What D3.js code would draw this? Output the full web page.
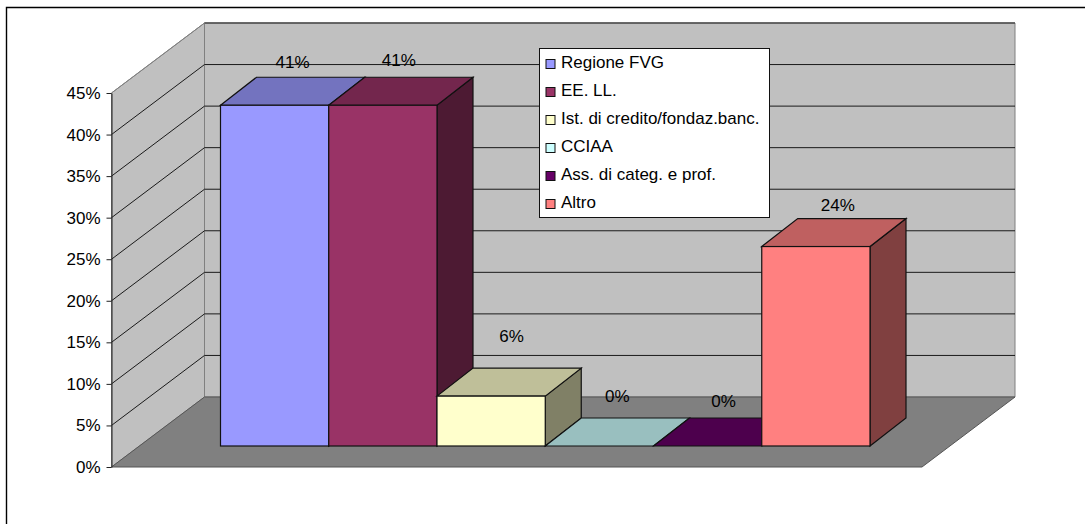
<!DOCTYPE html>
<html>
<head>
<meta charset="utf-8">
<script src="https://cdn.jsdelivr.net/npm/d3@7"></script>
<style>
  html, body { margin: 0; padding: 0; background: #fff; }
  svg { display: block; }
  text { font-family: "Liberation Sans", Arial, sans-serif; fill: #000; }
</style>
</head>
<body>
<div id="chart"></div>
<script>
var categories = ["Regione FVG", "EE. LL.", "Ist. di credito/fondaz.banc.", "CCIAA", "Ass. di categ. e prof.", "Altro"];
var values = [41, 41, 6, 0, 0, 24];
var colors = ["#9999ff", "#993366", "#ffffcc", "#ccffff", "#660066", "#ff8080"];
var ticks = [0, 5, 10, 15, 20, 25, 30, 35, 40, 45];

// label nudges relative to the back top corner of each bar's centre
var labelNudge = [[0, -15], [-2, -17], [2.5, -32], [0, -22], [-2, -17], [4, -13.5]];

var width = 1085, height = 524;
var fontSize = "17px";

var svg = d3.select("#chart").append("svg")
    .attr("width", width)
    .attr("height", height);

// front plane of the box, the back wall is shifted by wallDx/wallDy
var x0 = 111.5, x1 = 922;
var wallDx = 93, wallDy = -70;

var y = d3.scaleLinear().domain([0, 45]).range([467, 93]);

// bars stand on their own plane, a bit inside the floor
var barY0 = 446, barDx = 36, barDy = -28;
var barY = function(v) { return barY0 - (y(0) - y(v)); };
var x = d3.scaleBand().domain(categories).range([220.5, 870]);

function poly(pts) { return "M" + pts.map(function(p) { return p.join(","); }).join("L") + "Z"; }

// chart frame, only the top and left edges fall inside the page
svg.append("path")
    .attr("d", "M6.5," + height + "V7.5H" + width)
    .attr("fill", "none")
    .attr("stroke", "#000")
    .attr("stroke-width", 1.4);

// back wall
svg.append("path")
    .attr("d", poly([[x0 + wallDx, y(45) + wallDy], [x1 + wallDx, y(45) + wallDy], [x1 + wallDx, y(0) + wallDy], [x0 + wallDx, y(0) + wallDy]]))
    .attr("fill", "#c0c0c0")
    .attr("stroke", "#808080");

// side wall
svg.append("path")
    .attr("d", poly([[x0, y(45)], [x0 + wallDx, y(45) + wallDy], [x0 + wallDx, y(0) + wallDy], [x0, y(0)]]))
    .attr("fill", "#c0c0c0")
    .attr("stroke", "#808080");

// floor
svg.append("path")
    .attr("d", poly([[x0, y(0)], [x0 + wallDx, y(0) + wallDy], [x1 + wallDx, y(0) + wallDy], [x1, y(0)]]))
    .attr("fill", "#808080")
    .attr("stroke", "#555");

// gridlines along side wall and back wall
svg.selectAll("path.grid")
    .data(ticks.slice(1)).enter().append("path")
    .attr("class", "grid")
    .attr("fill", "none")
    .attr("stroke", function(d) { return d == 45 ? "#808080" : "#1a1a1a"; })
    .attr("d", function(d) {
        return "M" + x0 + "," + y(d) + "L" + (x0 + wallDx) + "," + (y(d) + wallDy) + "L" + (x1 + wallDx) + "," + (y(d) + wallDy);
    });
svg.append("path")
    .attr("fill", "none")
    .attr("stroke", "#333")
    .attr("d", "M" + (x0 + wallDx) + "," + (y(45) + wallDy) + "H" + (x1 + wallDx));

// y axis
var axis = svg.append("g")
    .attr("transform", "translate(" + x0 + ",0)")
    .call(d3.axisLeft(y).tickValues(ticks).tickSize(5).tickSizeOuter(0).tickPadding(6).tickFormat(function(d) { return d + "%"; }));
axis.selectAll("text").style("font-size", fontSize).style("font-family", '"Liberation Sans", Arial, sans-serif').attr("fill", "#000");
axis.selectAll("line").attr("stroke", "#222");
axis.select(".domain").attr("stroke", "#222");

var bars = svg.selectAll("g.bar")
    .data(categories).enter().append("g")
    .attr("class", "bar");

function shade(c, k) {
    var rgb = d3.rgb(c);
    return d3.rgb(rgb.r * k, rgb.g * k, rgb.b * k).formatHex();
}

bars.each(function(d, i) {
    var g = d3.select(this);
    var l = x(d), r = l + x.bandwidth(), t = barY(values[i]);
    // side face
    g.append("path")
        .attr("d", poly([[r, t], [r + barDx, t + barDy], [r + barDx, barY0 + barDy], [r, barY0]]))
        .attr("fill", shade(colors[i], 0.5))
        .attr("stroke", "#111").attr("stroke-width", 1.2);
    // top face
    g.append("path")
        .attr("d", poly([[l, t], [l + barDx, t + barDy], [r + barDx, t + barDy], [r, t]]))
        .attr("fill", shade(colors[i], 0.75))
        .attr("stroke", "#111").attr("stroke-width", 1.2);
    // front face
    g.append("rect")
        .attr("x", l).attr("y", t)
        .attr("width", x.bandwidth()).attr("height", barY0 - t)
        .attr("fill", colors[i])
        .attr("stroke", "#111").attr("stroke-width", 1.2);
});

// value labels
svg.selectAll("text.value")
    .data(categories).enter().append("text")
    .attr("class", "value")
    .attr("text-anchor", "middle")
    .attr("dy", "0.35em")
    .attr("font-size", fontSize)
    .attr("x", function(d, i) { return x(d) + x.bandwidth() / 2 + barDx / 2 + labelNudge[i][0]; })
    .attr("y", function(d, i) { return barY(values[i]) + barDy + labelNudge[i][1]; })
    .text(function(d, i) { return values[i] + "%"; });

// legend
var legend = svg.append("g").attr("transform", "translate(539.5,48.5)");
legend.append("rect")
    .attr("width", 230).attr("height", 169)
    .attr("fill", "#fff").attr("stroke", "#111");

var legendY = d3.scalePoint().domain(categories).range([15.5, 155.5]);

legend.selectAll("rect.key")
    .data(categories).enter().append("rect")
    .attr("class", "key")
    .attr("x", 6.5).attr("width", 9).attr("height", 9)
    .attr("y", function(d) { return legendY(d) - 4.5; })
    .attr("fill", function(d, i) { return colors[i]; })
    .attr("stroke", "#111");

legend.selectAll("text.entry")
    .data(categories).enter().append("text")
    .attr("class", "entry")
    .attr("x", 21.5)
    .attr("y", function(d) { return legendY(d) - 2; })
    .attr("dy", "0.35em")
    .attr("font-size", fontSize)
    .text(function(d) { return d; });
</script>
</body>
</html>
